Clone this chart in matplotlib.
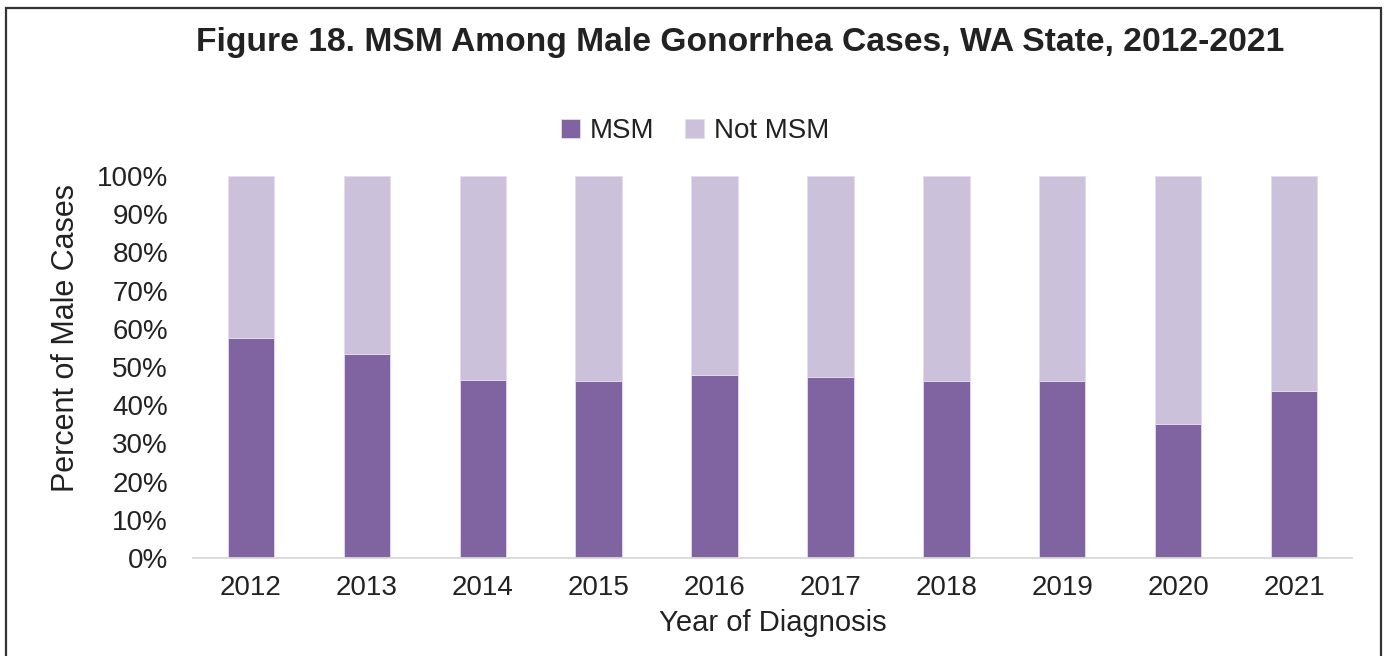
import numpy as np
import matplotlib.pyplot as plt
from matplotlib.patches import Rectangle

years = ['2012', '2013', '2014', '2015', '2016', '2017', '2018', '2019', '2020', '2021']
msm = np.array([57.7, 53.5, 46.6, 46.4, 47.9, 47.4, 46.4, 46.4, 35.0, 43.8])
not_msm = 100 - msm

plt.rcParams['font.family'] = ['Liberation Sans', 'DejaVu Sans']

fig = plt.figure(figsize=(13.88, 6.56), dpi=100)
ax = fig.add_axes([193 / 1388, 1 - 558 / 656, (1352 - 193) / 1388, (558 - 176) / 656])

x = np.arange(len(years))
ax.bar(x, msm, width=0.4, color='#8064A2', edgecolor='#e4dcee', linewidth=0.6, label='MSM')
ax.bar(x, not_msm, width=0.4, bottom=msm, color='#CCC1DA', edgecolor='#e4dcee', linewidth=0.6, label='Not MSM')

ax.set_xlim(-0.5, len(years) - 0.5)
ax.set_ylim(0, 100)
ax.set_yticks(np.arange(0, 101, 10))
ax.set_yticklabels([f'{v}%' for v in range(0, 101, 10)])
ax.set_xticks(x)
ax.set_xticklabels(years)
ax.tick_params(axis='both', length=0, labelsize=20, colors='#222222')
ax.tick_params(axis='y', pad=18)
ax.tick_params(axis='x', pad=12)

for s in ['top', 'right', 'left']:
  ax.spines[s].set_visible(False)
ax.spines['bottom'].set_color('#d9d9d9')
ax.spines['bottom'].set_linewidth(1.3)

ax.set_xlabel('Year of Diagnosis', fontsize=21, color='#222222', labelpad=6)
ax.set_ylabel('Percent of Male Cases', fontsize=22, color='#222222')
ax.yaxis.set_label_coords(-0.097, 0.576)

fig.text(740 / 1388, 1 - 43 / 656, 'Figure 18. MSM Among Male Gonorrhea Cases, WA State, 2012-2021',
         ha='center', va='center', fontsize=24.2, fontweight='bold', color='#222222')

fig.legend(loc='center', bbox_to_anchor=(695 / 1388, 1 - 131 / 656), ncol=2, frameon=False,
           fontsize=20, handlelength=0.7, handleheight=0.7, handletextpad=0.35,
           columnspacing=1.1, labelcolor='#222222')

fig.add_artist(Rectangle((6 / 1388, -0.05), (1381 - 6) / 1388, 1.05 - 8 / 656,
                         transform=fig.transFigure, fill=False, edgecolor='#333333', linewidth=1.6))

fig.savefig('out.png', dpi=100)
